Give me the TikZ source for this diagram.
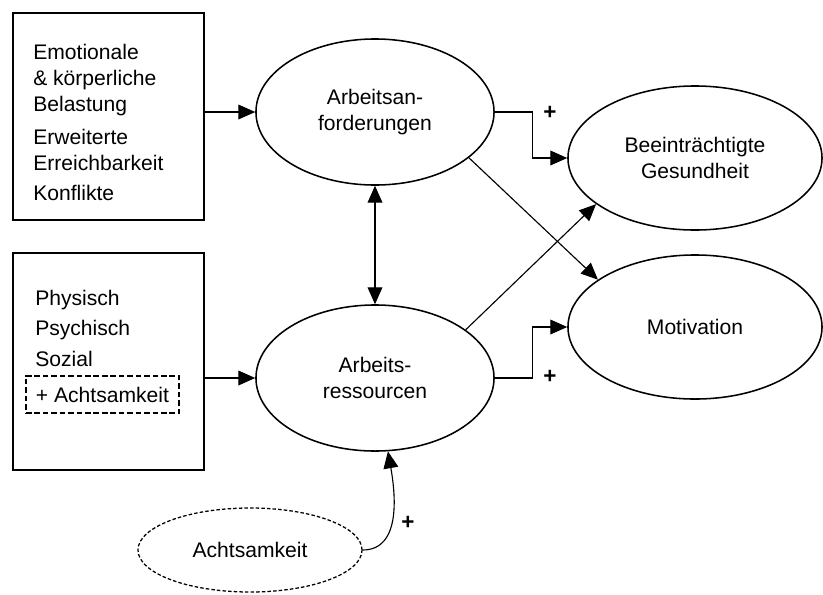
\documentclass[tikz,border=0pt]{standalone}
\usepackage{fontspec}
\setmainfont{Liberation Sans}
\usetikzlibrary{arrows.meta,shapes.geometric}

\begin{document}
\begin{tikzpicture}[x=0.025cm,y=-0.025cm,
  font=\fontsize{15}{18.5}\selectfont,
  >={Triangle[length=12pt,width=10.5pt]},
  box/.style={draw,line width=1.3pt,inner sep=0pt},
  oval/.style={draw,ellipse,line width=1.1pt,inner sep=0pt,align=center},
  conn/.style={->,line width=0.8pt},
  plus/.style={font=\fontsize{16}{18}\selectfont\bfseries}]
\useasboundingbox (0,0) rectangle (823,594);
% linke Kaesten
\node[box,minimum width=4.775cm,minimum height=5.175cm] (belastung) at (108.5,116.5) {};
\node[anchor=north west,inner sep=0pt,align=left] (belastungtext) at (33,44)
  {Emotionale\\ \& körperliche\\ Belastung\\[5pt] Erweiterte\\ Erreichbarkeit\\[3pt] Konflikte};
\node[box,minimum width=4.775cm,minimum height=5.425cm] (quellen) at (108.5,361.5) {};
\node[anchor=north west,inner sep=0pt,align=left] (quellentext) at (35,290)
  {Physisch\\[3pt] Psychisch\\[3pt] Sozial};
\node[box,dash pattern=on 4pt off 2pt,minimum width=3.825cm,minimum height=0.925cm] (achtbox) at (102.5,394.5) {+ Achtsamkeit};
% Ellipsen
\node[oval,minimum width=5.95cm,minimum height=3.65cm] (anforderungen) at (375,112) {Arbeitsan-\\forderungen};
\node[oval,minimum width=5.95cm,minimum height=3.65cm] (ressourcen) at (375,378) {Arbeits-\\ressourcen};
\node[oval,minimum width=6.35cm,minimum height=3.6cm] (gesundheit) at (695,158) {Beeinträchtigte\\Gesundheit};
\node[oval,minimum width=6.35cm,minimum height=3.6cm] (motivation) at (695,327) {Motivation};
\node[oval,line width=0.9pt,dash pattern=on 2.5pt off 1.5pt,minimum width=5.6cm,minimum height=2.1cm] (achtsamkeit) at (250,550) {Achtsamkeit};
% Pfeile
\draw[conn] (belastung.east |- anforderungen) -- (anforderungen.west);
\draw[conn] (quellen.east |- ressourcen) -- (ressourcen.west);
\draw[<->,line width=0.8pt] (anforderungen) -- (ressourcen);
\draw[conn] (anforderungen.east) -- ++(38,0) |- (gesundheit.west);
\node[plus] (plusgesund) at (550,113) {+};
\draw[conn] (anforderungen.-26) -- (motivation.154);
\draw[conn] (ressourcen.28) -- (gesundheit.205);
\draw[conn] (ressourcen.east) -- ++(38,0) |- (motivation.west);
\node[plus] (plusmotiv) at (550,377) {+};
\draw[conn] (achtsamkeit.east) to[out=0,in=-80] (ressourcen.-80);
\node[plus] (plusacht) at (408,523) {+};
\end{tikzpicture}
\end{document}
